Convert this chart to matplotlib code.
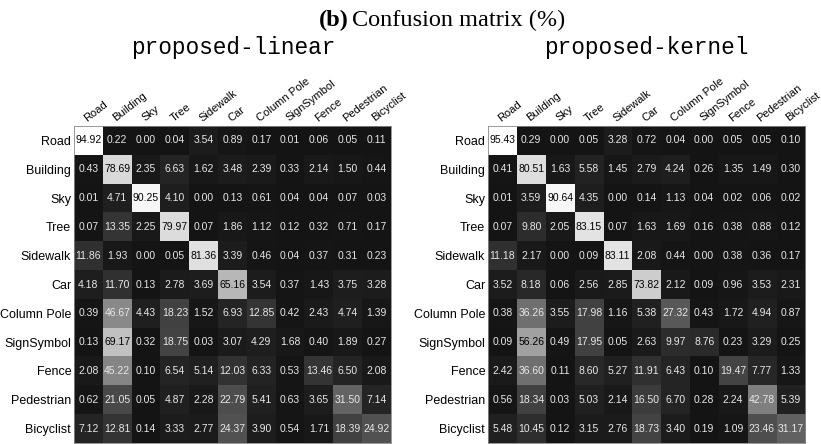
import matplotlib
matplotlib.use("Agg")
import matplotlib.pyplot as plt
import numpy as np
from matplotlib.colors import Normalize

classes = ["Road", "Building", "Sky", "Tree", "Sidewalk", "Car",
           "Column Pole", "SignSymbol", "Fence", "Pedestrian", "Bicyclist"]

# confusion matrices in percent, rows = ground truth, columns = prediction
linear = [
    [94.92, 0.22, 0.00, 0.04, 3.54, 0.89, 0.17, 0.01, 0.06, 0.05, 0.11],
    [0.43, 78.69, 2.35, 6.63, 1.62, 3.48, 2.39, 0.33, 2.14, 1.50, 0.44],
    [0.01, 4.71, 90.25, 4.10, 0.00, 0.13, 0.61, 0.04, 0.04, 0.07, 0.03],
    [0.07, 13.35, 2.25, 79.97, 0.07, 1.86, 1.12, 0.12, 0.32, 0.71, 0.17],
    [11.86, 1.93, 0.00, 0.05, 81.36, 3.39, 0.46, 0.04, 0.37, 0.31, 0.23],
    [4.18, 11.70, 0.13, 2.78, 3.69, 65.16, 3.54, 0.37, 1.43, 3.75, 3.28],
    [0.39, 46.67, 4.43, 18.23, 1.52, 6.93, 12.85, 0.42, 2.43, 4.74, 1.39],
    [0.13, 69.17, 0.32, 18.75, 0.03, 3.07, 4.29, 1.68, 0.40, 1.89, 0.27],
    [2.08, 45.22, 0.10, 6.54, 5.14, 12.03, 6.33, 0.53, 13.46, 6.50, 2.08],
    [0.62, 21.05, 0.05, 4.87, 2.28, 22.79, 5.41, 0.63, 3.65, 31.50, 7.14],
    [7.12, 12.81, 0.14, 3.33, 2.77, 24.37, 3.90, 0.54, 1.71, 18.39, 24.92],
]

kernel = [
    [95.43, 0.29, 0.00, 0.05, 3.28, 0.72, 0.04, 0.00, 0.05, 0.05, 0.10],
    [0.41, 80.51, 1.63, 5.58, 1.45, 2.79, 4.24, 0.26, 1.35, 1.49, 0.30],
    [0.01, 3.59, 90.64, 4.35, 0.00, 0.14, 1.13, 0.04, 0.02, 0.06, 0.02],
    [0.07, 9.80, 2.05, 83.15, 0.07, 1.63, 1.69, 0.16, 0.38, 0.88, 0.12],
    [11.18, 2.17, 0.00, 0.09, 83.11, 2.08, 0.44, 0.00, 0.38, 0.36, 0.17],
    [3.52, 8.18, 0.06, 2.56, 2.85, 73.82, 2.12, 0.09, 0.96, 3.53, 2.31],
    [0.38, 36.26, 3.55, 17.98, 1.16, 5.38, 27.32, 0.43, 1.72, 4.94, 0.87],
    [0.09, 56.26, 0.49, 17.95, 0.05, 2.63, 9.97, 8.76, 0.23, 3.29, 0.25],
    [2.42, 36.60, 0.11, 8.60, 5.27, 11.91, 6.43, 0.10, 19.47, 7.77, 1.33],
    [0.56, 18.34, 0.03, 5.03, 2.14, 16.50, 6.70, 0.28, 2.24, 42.78, 5.39],
    [5.48, 10.45, 0.12, 3.15, 2.76, 18.73, 3.40, 0.19, 1.09, 23.46, 31.17],
]

titles = ["proposed-linear", "proposed-kernel"]

fig = plt.figure(figsize=(8.21, 4.44), dpi=100)
norm = Normalize(vmin=-8, vmax=94, clip=True)

fig.text(349 / 821, 0.953, "(b)", ha="right", va="center",
         family="Liberation Serif", weight="bold", fontsize=17.5)
fig.text(352 / 821, 0.953, "Confusion matrix (%)", ha="left", va="center",
         family="Liberation Serif", fontsize=17.5)

lefts = [74 / 821, 488 / 821]
centers = [233 / 821, 646 / 821]
for left, cx, name, mat in zip(lefts, centers, titles, [linear, kernel]):
    m = np.array(mat)
    ax = fig.add_axes([left, 1 / 444, 317 / 821, 317 / 444])
    ax.imshow(m, cmap="gray", norm=norm, aspect="auto", interpolation="nearest")
    for i in range(m.shape[0]):
        for j in range(m.shape[1]):
            v = m[i, j]
            ax.text(j, i, f"{v:.2f}", ha="center", va="center",
                    fontsize=7.5, family="Liberation Sans",
                    color="black" if v > 50 else "#e8e8e8")
    ax.xaxis.tick_top()
    ax.set_xticks(range(len(classes)))
    ax.set_yticks(range(len(classes)))
    ax.set_xticklabels(classes, rotation=38, ha="left", va="bottom",
                       rotation_mode="anchor", fontsize=8, family="Liberation Sans")
    ax.set_yticklabels(classes, fontsize=9, family="Liberation Sans")
    ax.tick_params(length=0, pad=2)
    for s in ax.spines.values():
        s.set_color("#888888")
        s.set_linewidth(0.6)
    fig.text(cx, 0.893, name, ha="center", va="center",
             family="Liberation Mono", fontsize=16.4)

fig.savefig("out.png", dpi=100)
